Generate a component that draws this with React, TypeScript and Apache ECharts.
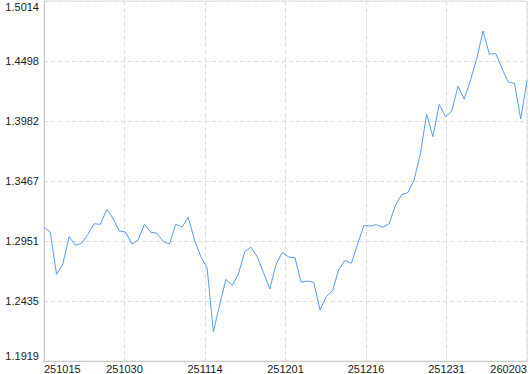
import React, { useEffect, useRef } from "react";
import * as echarts from "echarts";

const xTickLabels = ["251015", "251030", "251114", "251201", "251216", "251231", "260203"];
const yTickLabels = ["1.1919", "1.2435", "1.2951", "1.3467", "1.3982", "1.4498", "1.5014"];
const yMin = 1.1919;
const yMax = 1.5014;

const values = [
  1.3068, 1.3026, 1.2664, 1.2753, 1.2988, 1.2914, 1.2931, 1.3008, 1.3099, 1.3094,
  1.3223, 1.3146, 1.3037, 1.3028, 1.2925, 1.2959, 1.3094, 1.3026, 1.3017, 1.2948,
  1.2925, 1.3094, 1.3071, 1.3154, 1.2959, 1.2816, 1.2721, 1.2171, 1.2401, 1.2621,
  1.2570, 1.2667, 1.2859, 1.2897, 1.2816, 1.2678, 1.2538, 1.2750, 1.2854, 1.2813,
  1.2807, 1.2596, 1.2607, 1.2596, 1.2358, 1.2472, 1.2523, 1.2707, 1.2785, 1.2759,
  1.2925, 1.3084, 1.3080, 1.3091, 1.3068, 1.3097, 1.3254, 1.3349, 1.3366, 1.3475,
  1.3699, 1.4042, 1.3847, 1.4126, 1.4019, 1.4068, 1.4281, 1.4171, 1.4335, 1.4521,
  1.4756, 1.4556, 1.4564, 1.4435, 1.4318, 1.4306, 1.4000, 1.4329,
];

const categories = values.map((_, i) => String(i));

export default function App() {
  const ref = useRef<HTMLDivElement>(null);
  useEffect(() => {
    if (!ref.current) return;
    const chart = echarts.init(ref.current, null, { renderer: "svg" });
    const font = "Liberation Sans, Arial, sans-serif";
    const splitLine = { show: true, lineStyle: { color: "#dddddd", type: [4, 3] as any, width: 1 } };
    chart.setOption({
      animation: false,
      backgroundColor: "#ffffff",
      grid: { left: 44, right: 2, top: 1, bottom: 13, show: true, borderColor: "#dddddd", borderWidth: 1 },
      xAxis: [
        { type: "category", data: categories, boundaryGap: false, show: false, position: "bottom" },
        {
          type: "value", min: 0, max: 6, interval: 1, position: "bottom",
          axisLine: { show: true, onZero: false, lineStyle: { color: "#cccccc" } },
          axisTick: { show: false },
          axisLabel: {
            formatter: (v: number) => xTickLabels[Math.round(v)],
            margin: 2, fontSize: 11, color: "#222222", fontFamily: font,
            alignMinLabel: "left", alignMaxLabel: "right",
          },
          splitLine,
        },
      ],
      yAxis: [
        { type: "value", min: yMin, max: yMax, show: false, splitLine: { show: false } },
        {
          type: "value", min: 0, max: 6, interval: 1, position: "left",
          axisLine: { show: true, onZero: false, lineStyle: { color: "#cccccc" } },
          axisTick: { show: false },
          axisLabel: {
            formatter: (v: number) => yTickLabels[Math.round(v)],
            margin: 5, fontSize: 11, color: "#222222", fontFamily: font,
            verticalAlignMinLabel: "bottom", verticalAlignMaxLabel: "top",
          },
          splitLine,
        },
      ],
      series: [
        {
          type: "line",
          xAxisIndex: 0,
          yAxisIndex: 0,
          data: values,
          symbol: "none",
          lineStyle: { color: "#5a9bec", width: 1 },
          itemStyle: { color: "#5a9bec" },
        },
      ],
    });
    return () => chart.dispose();
  }, []);
  return <div ref={ref} style={{ position: "absolute", left: 0, top: 0, width: 530, height: 374 }} />;
}
